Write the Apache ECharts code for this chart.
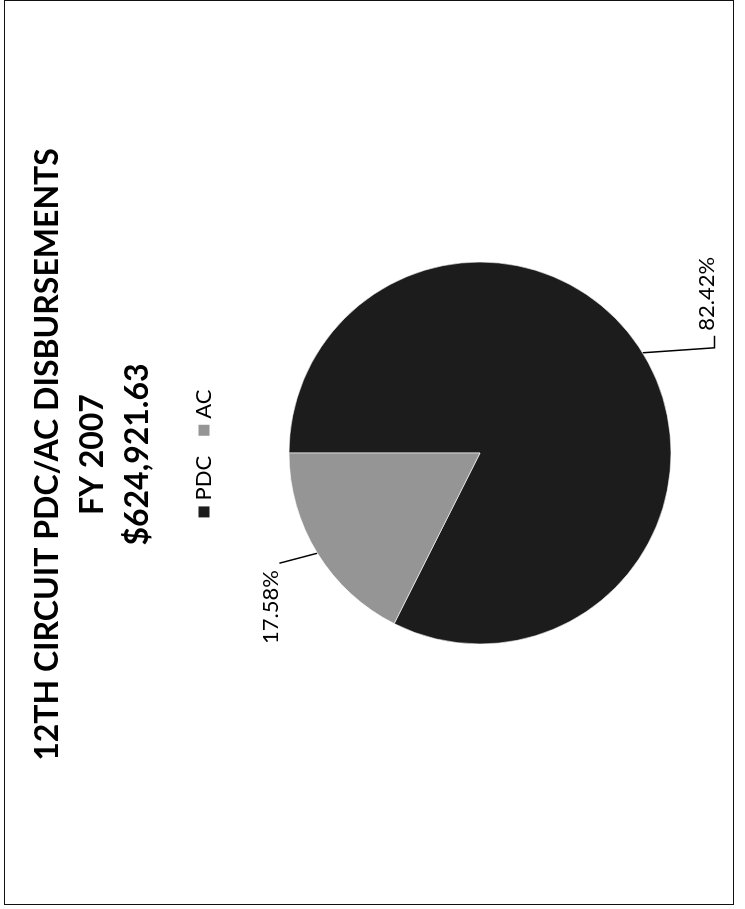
<!DOCTYPE html>
<html>
<head>
<meta charset="utf-8">
<script src="https://cdn.jsdelivr.net/npm/echarts@6/dist/echarts.min.js"></script>
<style>
  html, body { margin: 0; padding: 0; background: #fff; width: 745px; height: 909px; overflow: hidden; }
  #frame { position: absolute; left: 4px; top: 0px; width: 728px; height: 903px; border: 1.6px solid #111; box-sizing: content-box; }
  #chart { position: absolute; left: 0; top: 0; width: 909px; height: 745px;
           transform-origin: 0 0; transform: translate(0px, 909px) rotate(-90deg); }
</style>
</head>
<body>
<div id="frame"></div>
<div id="chart"></div>
<script>
const titleLines = ['12TH CIRCUIT PDC/AC DISBURSEMENTS', 'FY 2007', '$624,921.63'];
const categories = ['PDC', 'AC'];
const shares = [82.42, 17.58];
const colors = ['#1c1c1c', '#959595'];

const chart = echarts.init(document.getElementById('chart'), null, { renderer: 'canvas' });
chart.setOption({
  backgroundColor: 'transparent',
  animation: false,
  title: {
    text: titleLines.join('\n'),
    left: 'center',
    top: 20,
    textStyle: { fontFamily: 'Lato', fontWeight: 'bold', fontSize: 32, lineHeight: 45, color: '#000' }
  },
  legend: {
    data: categories,
    left: 'center',
    top: 188,
    icon: 'rect',
    itemWidth: 13,
    itemHeight: 13,
    itemGap: 18,
    textStyle: { fontFamily: 'Lato', fontSize: 22, color: '#000' }
  },
  color: colors,
  series: [{
    type: 'pie',
    center: [456, 480],
    radius: 191,
    startAngle: 90,
    clockwise: true,
    avoidLabelOverlap: false,
    itemStyle: { borderColor: '#fff', borderWidth: 0.6 },
    label: {
      show: true,
      formatter: '{d}%',
      fontFamily: 'Lato',
      fontSize: 22,
      color: '#000'
    },
    labelLine: { show: true, length: 40, length2: 8, lineStyle: { color: '#000', width: 1.5 } },
    labelLayout: function (params) {
      const p0 = params.labelLinePoints[0];
      if (params.dataIndex === 0) {
        const p1 = [p0[0] + 5, p0[1] + 72];
        const p2 = [p1[0] + 12, p1[1]];
        return { x: p0[0] + 22, y: p0[1] + 64, align: 'left', verticalAlign: 'middle',
                 labelLinePoints: [p0, p1, p2] };
      } else {
        const p1 = [p0[0] - 10, p0[1] - 38];
        return { x: p0[0] - 17, y: p0[1] - 46, align: 'right', verticalAlign: 'middle',
                 labelLinePoints: [p0, p1, p1] };
      }
    },
    data: categories.map((c, i) => ({ name: c, value: shares[i] }))
  }]
});
</script>
</body>
</html>
